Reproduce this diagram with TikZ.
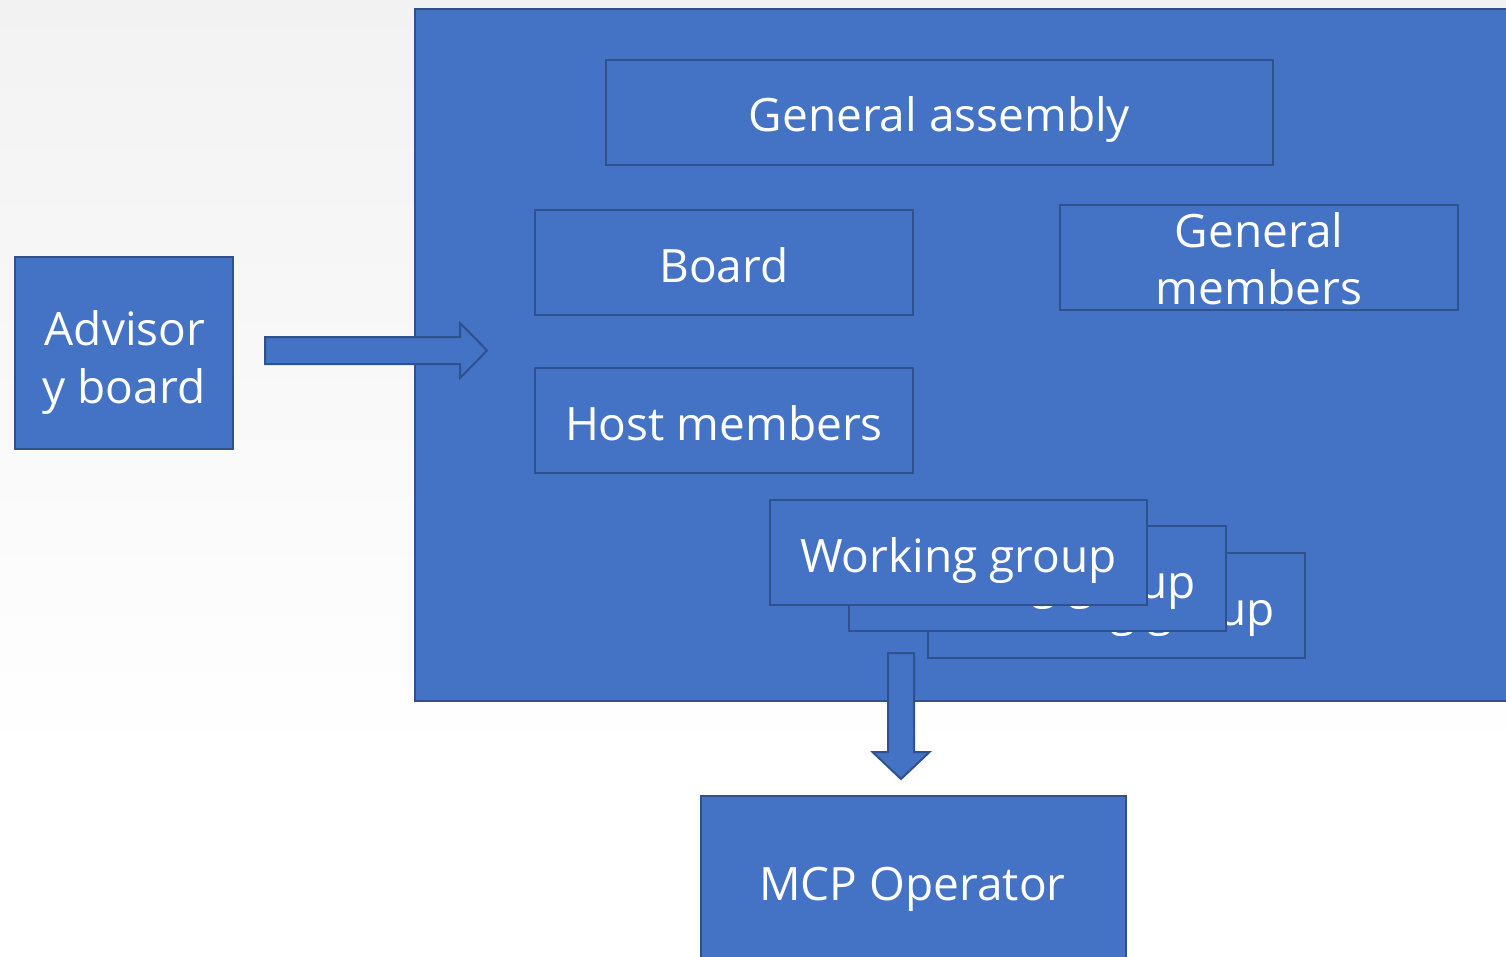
\documentclass[tikz,border=0pt]{standalone}
\usepackage{fontspec}
\setmainfont{Open Sans}
\usetikzlibrary{calc}
\definecolor{bfill}{HTML}{4472C4}
\definecolor{bline}{HTML}{2F528F}
\definecolor{bgtop}{HTML}{F2F2F2}
\begin{document}
\begin{tikzpicture}[x=1pt,y=-1pt,
  box/.style={draw=bline, fill=bfill, line width=2pt, inner sep=0pt, line join=miter},
  txt/.style={text=white, font=\fontsize{46}{57}\selectfont, inner sep=0pt, anchor=base}]
\useasboundingbox (0,0) rectangle (1506,957);
\shade[top color=bgtop, bottom color=white] (0,0) rectangle (1506,760);
\fill[white] (0,760) rectangle (1506,957);
% main container
\node[box, minimum width=1100pt, minimum height=692pt, anchor=north west] (main) at (414,8) {};
% inner boxes
\node[box, minimum width=667pt, minimum height=105pt] (ga) at (939.5,112.5) {};
\node[txt] (gat) at (939.5,132) {General assembly};
\node[box, minimum width=378pt, minimum height=105pt] (board) at (724,262.5) {};
\node[txt] (boardt) at (724,283) {Board};
\node[box, minimum width=398pt, minimum height=105pt] (gm) at (1259,257.5) {};
\node[txt] (gmt1) at (1259,248) {General};
\node[txt] (gmt2) at (1259,305) {members};
\node[box, minimum width=378pt, minimum height=105pt] (host) at (724,420.5) {};
\node[txt] (hostt) at (724,440) {Host members};
% working group stack
\node[box, minimum width=377pt, minimum height=105pt] (wg3) at (1116.5,605.5) {};
\node[txt] (wg3t) at (1116.5,625) {Working group};
\node[box, minimum width=377pt, minimum height=105pt] (wg2) at (1037.5,578.5) {};
\node[txt] (wg2t) at (1037.5,598) {Working group};
\node[box, minimum width=377pt, minimum height=105pt] (wg1) at (958.5,552.5) {};
\node[txt] (wg1t) at (958.5,572) {Working group};
% advisory board
\node[box, minimum width=218pt, minimum height=192pt] (adv) at (124,353) {};
\node[txt] (advt1) at (125,345) {Advisor};
\node[txt] (advt2) at (124,403) {y board};
% MCP operator
\node[box, minimum width=425pt, minimum height=220pt, anchor=north west] (mcp) at (700,795) {};
\node[txt] (mcpt) at (912.5,900) {MCP Operator};
% block arrows
\coordinate (a1s) at (265,350.5);
\coordinate (a1t) at (487,350.5);
\draw[box] ($(a1s)+(0,-13.5)$) -- ($(a1t)+(-27,-13.5)$) -- ($(a1t)+(-27,-27.5)$) -- (a1t)
  -- ($(a1t)+(-27,27.5)$) -- ($(a1t)+(-27,13.5)$) -- ($(a1s)+(0,13.5)$) -- cycle;
\coordinate (a2s) at (901,653);
\coordinate (a2t) at (901,779);
\draw[box] ($(a2s)+(-13,0)$) -- ($(a2t)+(-13,-27)$) -- ($(a2t)+(-28.5,-27)$) -- (a2t)
  -- ($(a2t)+(28.5,-27)$) -- ($(a2t)+(13,-27)$) -- ($(a2s)+(13,0)$) -- cycle;
\end{tikzpicture}
\end{document}
